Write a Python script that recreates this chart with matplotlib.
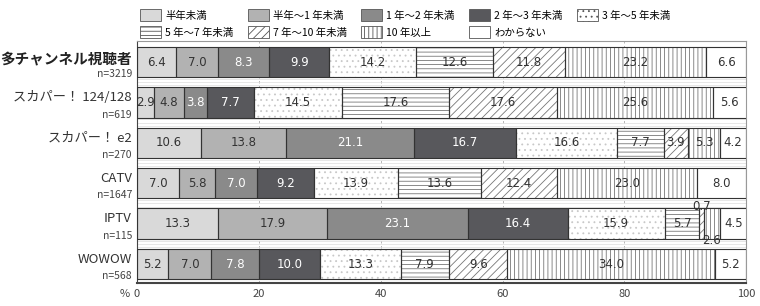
import numpy as np
import matplotlib.pyplot as plt
from matplotlib.patches import Patch

plt.rcParams['font.family'] = ['Noto Sans CJK JP', 'DejaVu Sans']
plt.rcParams['hatch.linewidth'] = 0.6

groups = ['多チャンネル視聴者', 'スカパー！ 124/128', 'スカパー！ e2', 'CATV', 'IPTV', 'WOWOW']
counts = ['n=3219', 'n=619', 'n=270', 'n=1647', 'n=115', 'n=568']
periods = ['半年未満', '半年～1 年未満', '1 年～2 年未満', '2 年～3 年未満', '3 年～5 年未満',
           '5 年～7 年未満', '7 年～10 年未満', '10 年以上', 'わからない']

multi = [6.4, 7.0, 8.3, 9.9, 14.2, 12.6, 11.8, 23.2, 6.6]
skyp = [2.9, 4.8, 3.8, 7.7, 14.5, 17.6, 17.6, 25.6, 5.6]
e2 = [10.6, 13.8, 21.1, 16.7, 16.6, 7.7, 3.9, 5.3, 4.2]
catv = [7.0, 5.8, 7.0, 9.2, 13.9, 13.6, 12.4, 23.0, 8.0]
iptv = [13.3, 17.9, 23.1, 16.4, 15.9, 5.7, 0.7, 2.6, 4.5]
wowow = [5.2, 7.0, 7.8, 10.0, 13.3, 7.9, 9.6, 34.0, 5.2]

data = np.array([multi, skyp, e2, catv, iptv, wowow])

faces = ['#d9d9d9', '#b2b2b2', '#8a8a8a', '#58585c', 'white', 'white', 'white', 'white', 'white']
hatches = [None, None, None, None, '...', '----', '////', '||||', None]
hcols = ['#d9d9d9', '#b2b2b2', '#8a8a8a', '#58585c', '#c8c8c8', '#777777', '#777777', '#777777', 'white']
tcols = ['#333333', '#333333', 'white', 'white', '#333333', '#333333', '#333333', '#333333', '#333333']

fig = plt.figure(figsize=(7.6, 3.06), dpi=100)
ax = fig.add_axes([0.180, 0.075, 0.802, 0.791])

y = np.arange(len(groups))
left = np.zeros(len(groups))
for j in range(len(periods)):
    vals = data[:, j]
    ax.barh(y, vals, left=left, height=0.75, color=faces[j], edgecolor=hcols[j],
            hatch=hatches[j], linewidth=0, zorder=2)
    ax.barh(y, vals, left=left, height=0.75, fill=False, edgecolor='#333333',
            linewidth=0.8, zorder=3)
    for i, v in enumerate(vals):
        cx = left[i] + v / 2
        cy = y[i]
        if groups[i] == 'IPTV' and v in (0.7, 2.6):
            cy = y[i] - 0.42 if v == 0.7 else y[i] + 0.42
        ax.text(cx, cy, f'{v:.1f}', ha='center', va='center', fontsize=8.5,
                color=tcols[j], zorder=4, family=['DejaVu Sans'])
    left += vals

ax.set_xlim(0, 100)
ax.set_ylim(5.47, -0.52)
ax.set_yticks([])
ax.set_xticks([0, 20, 40, 60, 80, 100])
ax.set_xticklabels(['0', '20', '40', '60', '80', '100'], fontsize=8, color='#444444')
ax.text(-0.012, -0.023, '%', transform=ax.transAxes, fontsize=8, color='#444444',
        ha='right', va='top')
ax.tick_params(axis='x', length=0, pad=4)
for x in [20, 40, 60, 80]:
    ax.axvline(x, color='#aaaaaa', lw=0.6, ls=(0, (3, 3)), zorder=1)
for k in range(len(groups) - 1):
    for off in (0.42, 0.5, 0.58):
        ax.axhline(k + off, color='#dddddd', lw=0.5, zorder=1)

for s in ['top', 'right']:
    ax.spines[s].set_color('#999999')
    ax.spines[s].set_linewidth(0.8)
ax.spines['left'].set_color('#444444')
ax.spines['bottom'].set_color('#444444')
ax.spines['bottom'].set_linewidth(1.5)

for i, (g, n) in enumerate(zip(groups, counts)):
    if i == 0:
        ax.text(-0.8, i - 0.08, g, ha='right', va='center', fontsize=10.5,
                fontweight='bold', color='#222222')
    else:
        ax.text(-0.8, i - 0.12, g, ha='right', va='center', fontsize=9.5, color='#333333')
    ax.text(-0.8, i + 0.3, n, ha='right', va='center', fontsize=7.5, color='#444444')

handles = [Patch(facecolor=faces[j], edgecolor='#555555', hatch=hatches[j], linewidth=0.6)
           for j in range(len(periods))]
labels = list(periods)
handles.append(Patch(visible=False))
labels.append('')
order = [0, 5, 1, 6, 2, 7, 3, 8, 4, 9]
fig.legend([handles[k] for k in order], [labels[k] for k in order], ncol=5,
           loc='upper left', bbox_to_anchor=(0.172, 1.0),
           frameon=False, fontsize=7.5, handlelength=2.0, handleheight=1.3,
           columnspacing=1.4, handletextpad=0.4, labelspacing=0.55)

fig.savefig('out.png', dpi=100)
